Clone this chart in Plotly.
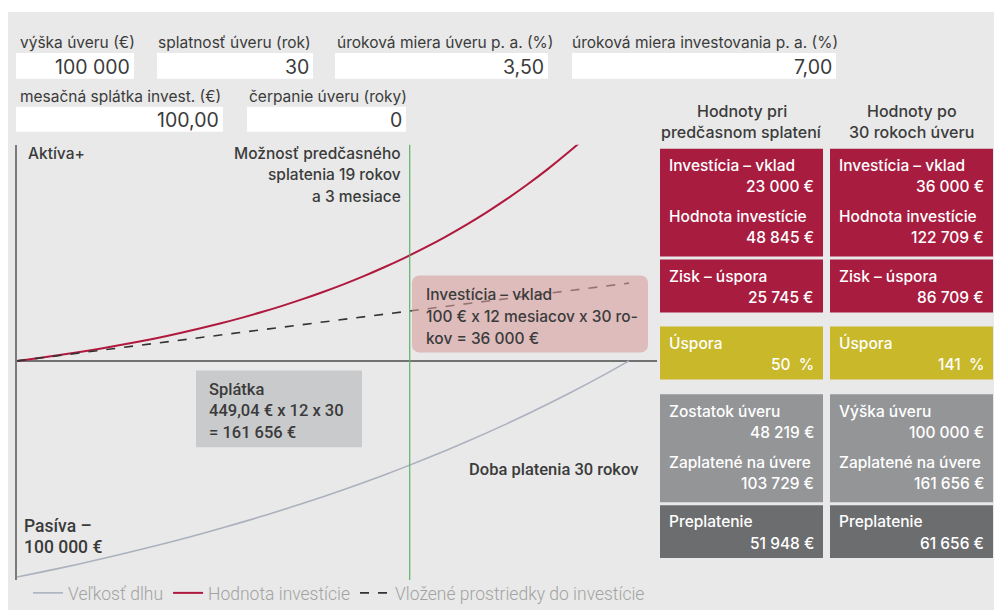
import plotly.graph_objects as go

# ---------------- data ----------------
years = list(range(31))
debt_remaining = [100000, 98081, 96094, 94036, 91905, 89698, 87412, 85045, 82594, 80056,
                  77428, 74706, 71887, 68968, 65945, 62815, 59573, 56216, 52739, 49139,
                  45411, 41550, 37552, 33412, 29124, 24684, 20086, 15324, 10393, 5287, 0]
invest_value = [0, 1247, 2583, 4016, 5553, 7201, 8968, 10863, 12895, 15073,
                17410, 19915, 22601, 25481, 28570, 31882, 35433, 39241, 43324, 47703,
                52398, 57432, 62830, 68619, 74826, 81481, 88618, 96270, 104476, 113276, 122709]
deposit_years = [0, 30]
deposit_values = [0, 36000]
early_payoff_year = 19.25

series_names = ["Veľkosť dlhu", "Hodnota investície", "Vložené prostriedky do investície"]

input_labels = ["výška úveru (€)", "splatnosť úveru (rok)", "úroková miera úveru p. a. (%)",
                "úroková miera investovania p. a. (%)", "mesačná splátka invest. (€)",
                "čerpanie úveru (roky)"]
input_values = ["100 000", "30", "3,50", "7,00", "100,00", "0"]

col_headers = [["Hodnoty pri", "predčasnom splatení"], ["Hodnoty po", "30 rokoch úveru"]]
red_labels = [["Investícia – vklad", "Hodnota investície"], ["Investícia – vklad", "Hodnota investície"]]
red_values = [["23 000 €", "48 845 €"], ["36 000 €", "122 709 €"]]
profit_label = "Zisk – úspora"
profit_values = ["25 745 €", "86 709 €"]
saving_label = "Úspora"
saving_values = ["50  %", "141  %"]
loan_labels = [["Zostatok úveru", "Zaplatené na úvere"], ["Výška úveru", "Zaplatené na úvere"]]
loan_values = [["48 219 €", "103 729 €"], ["100 000 €", "161 656 €"]]
over_label = "Preplatenie"
over_values = ["51 948 €", "61 656 €"]

# ---------------- helpers (pixel -> paper) ----------------
W, H = 994, 611
def px(x): return x / W
def py(y): return 1 - y / H

FONT = "Inter, Lato, Roboto, sans-serif"
NARROW = "Roboto, sans-serif"
TXT = "#3b3b3b"
RED = "#a81c40"
YEL = "#c8b82a"
LGR = "#949597"
DGR = "#6c6d6f"
BG = "#e8e9e8"

shapes = []
annots = []

def rect(x0, y0, x1, y1, color, layer="below", opacity=1):
    shapes.append(dict(type="rect", xref="paper", yref="paper", x0=px(x0), x1=px(x1),
                       y0=py(y1), y1=py(y0), fillcolor=color, line=dict(width=0),
                       layer=layer, opacity=opacity))

def rrect(x0, y0, x1, y1, r, color, layer="above"):
    def P(x, y): return f"{px(x)},{py(y)}"
    path = (f"M {P(x0 + r, y0)} L {P(x1 - r, y0)} Q {P(x1, y0)} {P(x1, y0 + r)} "
            f"L {P(x1, y1 - r)} Q {P(x1, y1)} {P(x1 - r, y1)} L {P(x0 + r, y1)} "
            f"Q {P(x0, y1)} {P(x0, y1 - r)} L {P(x0, y0 + r)} Q {P(x0, y0)} {P(x0 + r, y0)} Z")
    shapes.append(dict(type="path", xref="paper", yref="paper", path=path,
                       fillcolor=color, line=dict(width=0), layer=layer))

def text(x, y, s, size=15, color=TXT, anchor="left", family=FONT, weight=400):
    annots.append(dict(xref="paper", yref="paper", x=px(x), y=py(y), text=s,
                       showarrow=False, xanchor=anchor, yanchor="middle",
                       font=dict(family=family, size=size, color=color, weight=weight)))

# background panel
rect(8, 12, 994, 611, BG)

# ---------------- input fields ----------------
fields = [  # label x, box x0, box x1, label y, box y0, box y1
    (18, 16, 134, 43, 53, 79),
    (156, 157, 313, 43, 53, 79),
    (335, 335, 548, 43, 53, 79),
    (570, 572, 836, 43, 53, 79),
    (18, 16, 223, 97, 107, 132),
    (247, 247, 406, 97, 107, 132),
]
for (lx, bx0, bx1, ly, by0, by1), lab, val in zip(fields, input_labels, input_values):
    rect(bx0, by0, bx1, by1, "white")
    text(lx, ly, lab, size=15.5)
    text(bx1 - 2, (by0 + by1) / 2 + 1, val, size=19.5, anchor="right")

# ---------------- right panel ----------------
cols = [(660, 823), (830, 993)]
for i, (x0, x1) in enumerate(cols):
    cx = (x0 + x1) / 2
    text(cx, 111, col_headers[i][0], size=16, anchor="center", weight=500)
    text(cx, 132, col_headers[i][1], size=16, anchor="center", weight=500)
    lx, vx = x0 + 7, x1 - 7
    # red block
    rect(x0, 149, x1, 257, RED)
    text(lx, 166, red_labels[i][0], size=15.5, color="white", weight=500)
    text(vx, 187, red_values[i][0], size=15.5, color="white", anchor="right", weight=500)
    text(lx, 217, red_labels[i][1], size=15.5, color="white", weight=500)
    text(vx, 238, red_values[i][1], size=15.5, color="white", anchor="right", weight=500)
    rect(x0, 260, x1, 313, RED)
    text(lx, 277, profit_label, size=15.5, color="white", weight=500)
    text(vx, 298, profit_values[i], size=15.5, color="white", anchor="right", weight=500)
    # yellow
    rect(x0, 327, x1, 380, YEL)
    text(lx, 344, saving_label, size=15.5, color="white", weight=500)
    text(vx, 365, saving_values[i], size=15.5, color="white", anchor="right", weight=500)
    # light grey
    rect(x0, 395, x1, 503, LGR)
    text(lx, 412, loan_labels[i][0], size=15.5, color="white", weight=500)
    text(vx, 433, loan_values[i][0], size=15.5, color="white", anchor="right", weight=500)
    text(lx, 463, loan_labels[i][1], size=15.5, color="white", weight=500)
    text(vx, 484, loan_values[i][1], size=15.5, color="white", anchor="right", weight=500)
    # dark grey
    rect(x0, 506, x1, 559, DGR)
    text(lx, 522, over_label, size=15.5, color="white", weight=500)
    text(vx, 544, over_values[i], size=15.5, color="white", anchor="right", weight=500)

# ---------------- chart ----------------
fig = go.Figure()
fig.add_trace(go.Scatter(x=years, y=[-v for v in debt_remaining], mode="lines",
                         name=series_names[0], line=dict(color="#abb1bd", width=1.6, shape="spline")))
fig.add_trace(go.Scatter(x=years, y=invest_value, mode="lines", name=series_names[1],
                         line=dict(color="#b0183e", width=2, shape="spline")))
fig.add_trace(go.Scatter(x=deposit_years, y=deposit_values, mode="lines", name=series_names[2],
                         line=dict(color="#333333", width=1.6, dash="dash")))

# green early-payoff line
shapes.append(dict(type="line", xref="x", yref="paper", x0=early_payoff_year, x1=early_payoff_year,
                   y0=py(581), y1=py(145), line=dict(color="#5cb36c", width=1.2), layer="above"))

# pink box over the dashed line
rrect(412, 276, 648, 353, 8, "rgba(214,158,156,0.6)", layer="above")
text(424, 295, "Investícia – vklad", size=15.5, weight=500)
text(424, 317, "100 € x 12 mesiacov x 30 ro-", size=15.5, weight=500)
text(424, 339, "kov = 36 000 €", size=15.5, weight=500)

# grey splátka box
rect(196, 371, 362, 448, "#c9cacc", layer="above")
text(207, 390, "Splátka", size=16.5, family=NARROW, weight=500)
text(207, 411, "449,04 € x 12 x 30", size=16.5, family=NARROW, weight=500)
text(207, 433, "= 161 656 €", size=16.5, family=NARROW, weight=500)

text(26, 154, "Aktíva+", size=15.5, weight=500)
text(403, 154, "Možnosť predčasného", size=15.5, anchor="right", weight=500)
text(403, 175, "splatenia 19 rokov", size=15.5, anchor="right", weight=500)
text(403, 197, "a 3 mesiace", size=15.5, anchor="right", weight=500)
text(467, 470, "Doba platenia 30 rokov", size=16.5, family=NARROW, weight=500)
text(22, 527, "Pasíva –", size=17.5, family=NARROW, weight=500)
text(22, 548, "100 000 €", size=17.5, family=NARROW, weight=500)

x_per_px = 30 / (629 - 17)
y_per_px = 100000 / (361.5 - 145)

fig.update_layout(
    width=W, height=H,
    margin=dict(l=0, r=0, t=0, b=0),
    paper_bgcolor="white", plot_bgcolor="rgba(0,0,0,0)",
    showlegend=True,
    legend=dict(orientation="h", x=px(28), y=py(594), xanchor="left", yanchor="middle",
                bgcolor="rgba(0,0,0,0)", font=dict(family=NARROW, size=17.5, color="#a3a3a3", weight=300),
                itemwidth=30, tracegroupgap=0),
    xaxis=dict(domain=[px(17), px(657)], range=[0, (657 - 17) * x_per_px],
               showgrid=False, showticklabels=False, ticks="", zeroline=False, showline=False),
    yaxis=dict(domain=[py(581), py(145)],
               range=[-(581 - 361.5) * y_per_px, 100000],
               showgrid=False, showticklabels=False, ticks="",
               zeroline=True, zerolinecolor="#727272", zerolinewidth=1.6,
               showline=True, linecolor="#7a7a7a", linewidth=1.5),
    shapes=shapes, annotations=annots,
)

fig.write_html("out.html", config={"displayModeBar": False},
               post_script="document.body.style.margin='0';document.body.style.overflow='hidden';")
